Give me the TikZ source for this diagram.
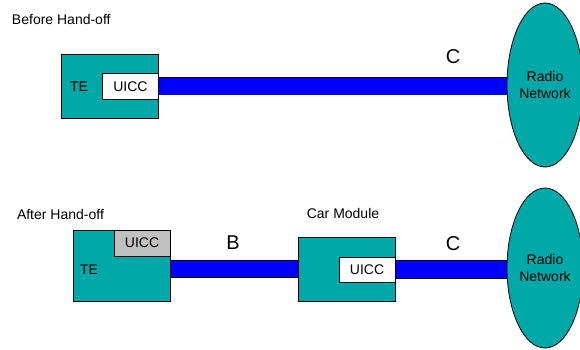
\documentclass[tikz,border=0pt]{standalone}
\usepackage{fontspec}
\setmainfont{Liberation Sans}
\usetikzlibrary{shapes.geometric,backgrounds}
\definecolor{teal1}{RGB}{0,168,168}
\definecolor{barblue}{RGB}{0,0,255}
\definecolor{uiccgray}{RGB}{192,192,192}
\begin{document}
\begin{tikzpicture}[x=1pt,y=-1pt,
  every node/.style={inner sep=0pt,outer sep=0pt,font=\fontsize{14}{16}\selectfont},
  box/.style={draw=black,line width=0.8pt,fill=teal1,rectangle},
  uicc/.style={draw=black,line width=0.8pt,fill=white,rectangle,minimum width=56pt,minimum height=26pt},
  net/.style={draw=black,line width=0.8pt,fill=teal1,ellipse,minimum width=76pt,align=center,font=\fontsize{14}{17}\selectfont},
  bar/.style={draw=black,line width=0.8pt,double=barblue,double distance=16.5pt},
  big/.style={font=\fontsize{20}{22}\selectfont},
  lbl/.style={anchor=west}
]
\useasboundingbox (0,0) rectangle (580,349);
\clip (0,0) rectangle (580,349);

% ---- Before hand-off ----
\node[lbl] (title1) at (12,19) {Before Hand-off};
\node[box,minimum width=96.6pt,minimum height=64pt] (te1) at (110,86.3) {};
\node (te1lbl) at (79,87) {TE};
\node[uicc] (uicc1) at (130.5,86.3) {UICC};
\node[net,minimum height=164pt] (net1) at (545,85) {Radio\\Network};
\node[big] (c1) at (453,57) {C};

% ---- After hand-off ----
\node[lbl] (title2) at (17,214) {After Hand-off};
\node[box,minimum width=97pt,minimum height=71pt] (te2) at (121.5,265.5) {};
\node[uicc,fill=uiccgray] (uicc2) at (142,243) {UICC};
\node (te2lbl) at (89,270) {TE};
\node (carlbl) at (343,213) {Car Module};
\node[box,minimum width=97pt,minimum height=64pt] (car) at (346.5,269) {};
\node[uicc,minimum height=25pt] (uicc3) at (367,269.5) {UICC};
\node[net,minimum height=160pt] (net2) at (545,268) {Radio\\Network};
\node[big] (b) at (233,243) {B};
\node[big] (c2) at (453,244) {C};

\begin{scope}[on background layer]
  \fill[white] (0,0) rectangle (580,349);
  \draw[bar] (uicc1.east) -- (uicc1.east -| net1.west);
  \draw[bar] (te2.east |- car.west) -- (car.west);
  \draw[bar] (uicc3.east) -- (uicc3.east -| net2.west);
\end{scope}
\end{tikzpicture}
\end{document}
